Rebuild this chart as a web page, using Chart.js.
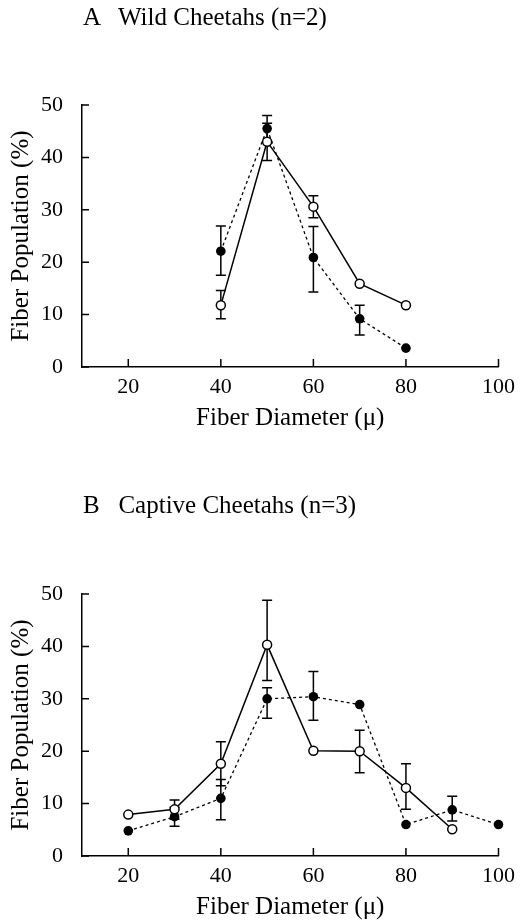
<!DOCTYPE html>
<html>
<head>
<meta charset="utf-8">
<script src="https://cdn.jsdelivr.net/npm/chart.js@4/dist/chart.umd.min.js"></script>
<style>
  body { margin: 0; background: #fff; }
  .wrap { position: relative; width: 522px; height: 922px; }
  .panel { position: absolute; left: 0; width: 522px; height: 433px; }
  .ttl { position: absolute; left: 83px; font: 25px "Liberation Serif"; line-height: 25px; white-space: pre; color: #000; }
</style>
</head>
<body>
<div class="wrap">
  <div class="panel" style="top:0"><canvas id="chartA"></canvas></div>
  <div class="ttl" style="top:4px">A   Wild Cheetahs (n=2)</div>
  <div class="panel" style="top:489px"><canvas id="chartB"></canvas></div>
  <div class="ttl" style="top:492px">B   Captive Cheetahs (n=3)</div>
</div>
<script>
const xTicks = [20, 40, 60, 80, 100];
const yTicks = [0, 10, 20, 30, 40, 50];

// A: wild cheetahs
const wildDiam = [40, 50, 60, 70, 80];
const wildOpen = [11.8, 43.0, 30.6, 15.9, 11.8];
const wildOpenLo = [9.2, 39.4, 28.5, null, null];
const wildOpenHi = [14.6, 46.5, 32.7, null, null];
const wildFilled = [22.1, 45.5, 20.9, 9.2, 3.6];
const wildFilledLo = [17.5, 43.0, 14.3, 6.1, null];
const wildFilledHi = [26.9, 48.0, 26.8, 11.8, null];

// B: captive cheetahs
const captiveDiam = [20, 30, 40, 50, 60, 70, 80, 90, 100];
const captiveOpen = [7.9, 8.9, 17.6, 40.3, 20.1, 20.0, 13.0, 5.1, null];
const captiveOpenLo = [null, 7.0, 13.4, 33.5, null, 15.9, 8.9, null, null];
const captiveOpenHi = [null, 10.7, 21.8, 48.8, null, 24.0, 17.6, null, null];
const captiveFilled = [4.8, 7.5, 11.0, 30.0, 30.4, 28.9, 6.0, 8.8, 6.0];
const captiveFilledLo = [null, 5.7, 6.9, 26.3, 25.9, null, null, 6.7, null];
const captiveFilledHi = [null, 9.3, 14.6, 32.1, 35.2, null, null, 11.4, null];

// error bars + inward tick marks
const extras = {
    id: 'extras',
    beforeDatasetsDraw(chart) {
        const ctx = chart.ctx;
        const xs = chart.scales.x, ys = chart.scales.y;
        ctx.save();
        ctx.strokeStyle = '#000';
        ctx.lineWidth = 1.5;
        chart.data.datasets.forEach(ds => {
            ds.data.forEach((p, i) => {
                if (ds.lo[i] == null) return;
                const px = xs.getPixelForValue(p.x);
                const y1 = ys.getPixelForValue(ds.lo[i]);
                const y2 = ys.getPixelForValue(ds.hi[i]);
                ctx.beginPath();
                ctx.moveTo(px, y1); ctx.lineTo(px, y2);
                ctx.moveTo(px - 5, y1); ctx.lineTo(px + 5, y1);
                ctx.moveTo(px - 5, y2); ctx.lineTo(px + 5, y2);
                ctx.stroke();
            });
        });
        const area = chart.chartArea;
        ctx.beginPath();
        xTicks.forEach(v => {
            const px = xs.getPixelForValue(v);
            ctx.moveTo(px, area.bottom); ctx.lineTo(px, area.bottom - 8);
        });
        yTicks.forEach(v => {
            const py = ys.getPixelForValue(v);
            ctx.moveTo(area.left, py); ctx.lineTo(area.left + 7, py);
        });
        ctx.stroke();
        ctx.restore();
    }
};

function series(xv, yv, lo, hi, open) {
    return {
        data: xv.map((x, i) => ({ x: x, y: yv[i] })),
        lo: lo,
        hi: hi,
        clip: false,
        borderColor: '#000',
        borderWidth: open ? 1.5 : 1.3,
        borderDash: open ? [] : [3, 3],
        pointRadius: open ? 4.5 : 4.8,
        pointBorderWidth: open ? 1.5 : 0,
        pointBackgroundColor: open ? '#fff' : '#000',
        pointBorderColor: '#000',
        tension: 0,
        fill: false
    };
}

const serif = 'Liberation Serif';

function makeChart(id, datasets) {
    return new Chart(document.getElementById(id).getContext('2d'), {
        type: 'line',
        data: { datasets: datasets },
        plugins: [extras],
        options: {
            responsive: true,
            maintainAspectRatio: false,
            animation: false,
            layout: { padding: { top: 105, right: 19, left: 0, bottom: 0 } },
            plugins: { legend: { display: false }, tooltip: { enabled: false } },
            scales: {
                x: {
                    type: 'linear',
                    min: 10,
                    max: 100,
                    afterBuildTicks: s => { s.ticks = xTicks.map(v => ({ value: v })); },
                    afterFit: s => { s.height = 66; },
                    grid: { display: false, drawTicks: false },
                    border: { display: true, color: '#000', width: 1.5 },
                    ticks: { color: '#000', font: { family: serif, size: 22 }, padding: 7, maxRotation: 0, autoSkip: false },
                    title: { display: true, text: 'Fiber Diameter (μ)', color: '#000', font: { family: serif, size: 25 }, padding: { top: 0, bottom: 0 } }
                },
                y: {
                    min: 0,
                    max: 50,
                    afterFit: s => { s.width = 82; },
                    grid: { display: false, drawTicks: false },
                    border: { display: true, color: '#000', width: 1.5 },
                    ticks: { stepSize: 10, color: '#000', font: { family: serif, size: 22 }, padding: 19 },
                    title: { display: true, text: 'Fiber Population (%)', color: '#000', font: { family: serif, size: 25 }, padding: { top: 6, bottom: 0 } }
                }
            }
        }
    });
}

makeChart('chartA', [
    series(wildDiam, wildOpen, wildOpenLo, wildOpenHi, true),
    series(wildDiam, wildFilled, wildFilledLo, wildFilledHi, false)
]);
makeChart('chartB', [
    series(captiveDiam, captiveOpen, captiveOpenLo, captiveOpenHi, true),
    series(captiveDiam, captiveFilled, captiveFilledLo, captiveFilledHi, false)
]);
</script>
</body>
</html>
